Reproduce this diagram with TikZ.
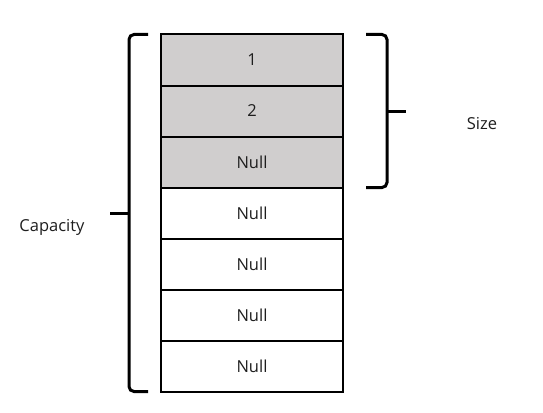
\documentclass[tikz,border=0pt]{standalone}
\usepackage{fontspec}
\setmainfont{Open Sans}
\usepackage{xcolor}
\usepackage{tikz}
\usetikzlibrary{positioning}

\definecolor{cellgray}{HTML}{D0CECE}
\definecolor{txt}{HTML}{1E1E1E}

\begin{document}
\begin{tikzpicture}[
    x=1pt, y=-1pt,
    node distance=0pt,
    cell/.style={draw, line width=2pt, outer sep=0pt, minimum width=182pt, minimum height=51pt, text=txt, font=\fontsize{16.5}{19}\selectfont},
    used/.style={cell, fill=cellgray},
    lbl/.style={text=txt, font=\fontsize{16.5}{19}\selectfont},
    brace/.style={line width=3pt, rounded corners=5pt}
]
\useasboundingbox (0,0) rectangle (543,412);

% array cells
\node[used] (c1) at (252,60) {1};
\node[used, below=of c1] (c2) {2};
\node[used, below=of c2] (c3) {Null};
\node[cell, below=of c3] (c4) {Null};
\node[cell, below=of c4] (c5) {Null};
\node[cell, below=of c5] (c6) {Null};
\node[cell, below=of c6] (c7) {Null};

% labels
\node[lbl] (capacity) at (52,227) {Capacity};
\node[lbl] (size) at (482,124) {Size};

% capacity brace
\draw[brace] ([xshift=-13pt]c1.north west) -| ([xshift=-32pt]c4.west) |- ([xshift=-13pt]c7.south west);
\draw[line width=3pt] ([xshift=-51pt]c4.west) -- ([xshift=-33pt]c4.west);
% size brace
\draw[brace] ([xshift=23pt]c1.north east) -| ([xshift=44pt]c2.east) |- ([xshift=23pt]c3.south east);
\draw[line width=3pt] ([xshift=45pt]c2.east) -- ([xshift=63pt]c2.east);

\end{tikzpicture}
\end{document}
